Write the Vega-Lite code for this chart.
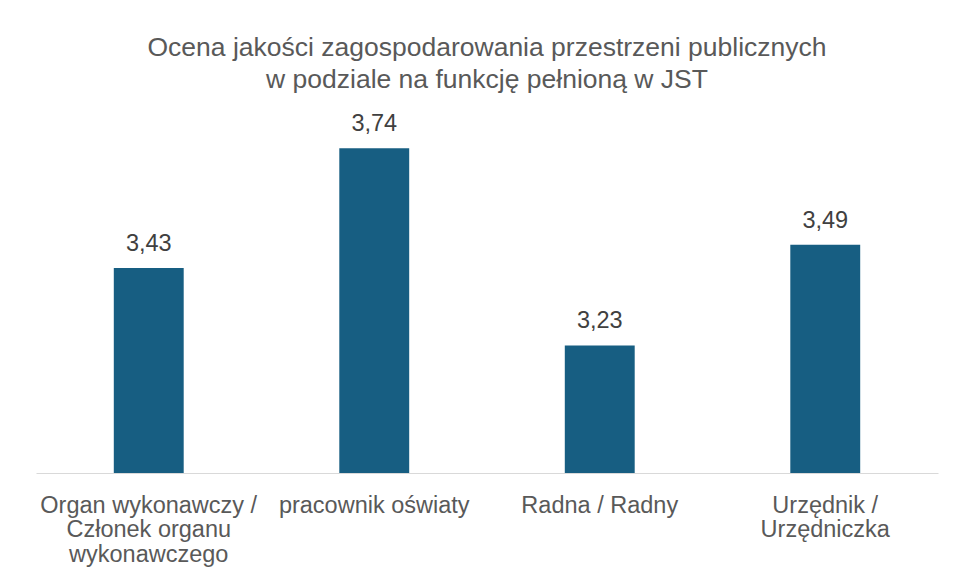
{
  "$schema": "https://vega.github.io/schema/vega-lite/v6.json",
  "autosize": {"type": "none"},
  "padding": {"left": 36, "top": 125, "right": 19, "bottom": 108},
  "width": 902,
  "height": 348,
  "background": "white",
  "title": {
    "text": ["Ocena jakości zagospodarowania przestrzeni publicznych", "w podziale na funkcję pełnioną w JST"],
    "font": "Liberation Sans",
    "fontSize": 26.5,
    "fontWeight": "normal",
    "lineHeight": 32,
    "color": "#595959",
    "anchor": "middle",
    "offset": 19
  },
  "data": {
    "values": [
      {"funkcja": "Organ wykonawczy / Członek organu wykonawczego", "ocena": 3.43},
      {"funkcja": "pracownik oświaty", "ocena": 3.74},
      {"funkcja": "Radna / Radny", "ocena": 3.23},
      {"funkcja": "Urzędnik / Urzędniczka", "ocena": 3.49}
    ]
  },
  "encoding": {
    "x": {
      "field": "funkcja",
      "type": "nominal",
      "sort": null,
      "scale": {"paddingInner": 0.69, "paddingOuter": 0.345},
      "axis": {
        "title": null,
        "labelAngle": 0,
        "ticks": false,
        "tickSize": 0,
        "domainColor": "#d9d9d9",
        "domainWidth": 1,
        "labelFont": "Liberation Sans",
        "labelFontSize": 23.5,
        "labelColor": "#595959",
        "labelPadding": 20,
        "labelLineHeight": 24.5,
        "labelLimit": 0,
        "labelBaseline": "top",
        "labelExpr": "datum.value == 'Organ wykonawczy / Członek organu wykonawczego' ? ['Organ wykonawczy /', 'Członek organu', 'wykonawczego'] : datum.value == 'Urzędnik / Urzędniczka' ? ['Urzędnik /', 'Urzędniczka'] : datum.value"
      }
    },
    "y": {
      "field": "ocena",
      "type": "quantitative",
      "scale": {"domain": [2.9, 3.8], "zero": false, "nice": false},
      "axis": null
    }
  },
  "layer": [
    {"mark": {"type": "bar", "color": "#175E82", "clip": true}},
    {
      "mark": {"type": "text", "font": "Liberation Sans", "fontSize": 23.5, "color": "#404040", "baseline": "middle", "dy": -24},
      "encoding": {"text": {"field": "ocena", "type": "quantitative", "format": ".2f"}}
    }
  ],
  "config": {
    "view": {"stroke": null},
    "locale": {"number": {"decimal": ",", "thousands": " ", "grouping": [3], "currency": ["", " zł"]}}
  }
}
